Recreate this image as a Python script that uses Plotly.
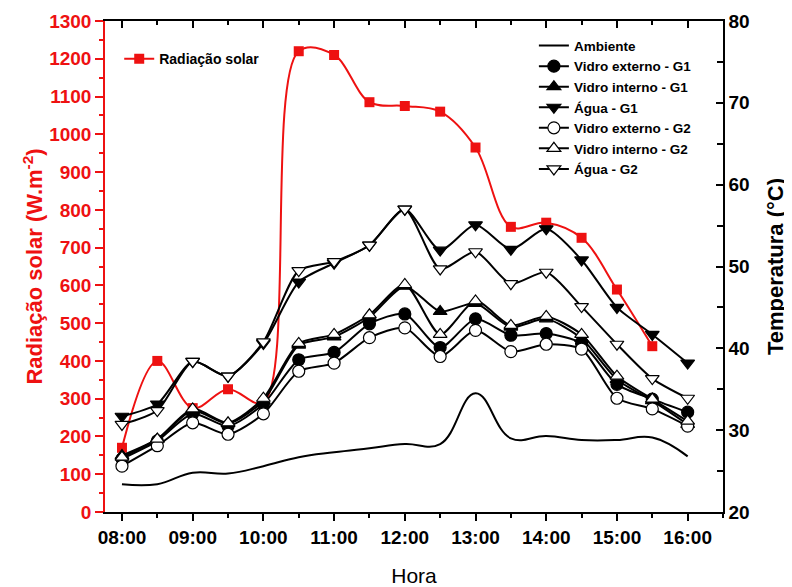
import plotly.graph_objects as go

# ---------------- data ----------------
hours = [8.0, 8.5, 9.0, 9.5, 10.0, 10.5, 11.0, 11.5, 12.0, 12.5, 13.0, 13.5, 14.0, 14.5, 15.0, 15.5, 16.0]
hour_ticks = [8, 9, 10, 11, 12, 13, 14, 15, 16]
hour_labels = ["08:00", "09:00", "10:00", "11:00", "12:00", "13:00", "14:00", "15:00", "16:00"]

rad_hours = [8.0, 8.5, 9.0, 9.5, 10.0, 10.5, 11.0, 11.5, 12.0, 12.5, 13.0, 13.5, 14.0, 14.5, 15.0, 15.5]
radiacao = [170, 400, 275, 325, 290, 1220, 1210, 1085, 1075, 1060, 965, 755, 766, 726, 589, 439]

ambiente = [23.4, 23.4, 24.8, 24.7, 25.6, 26.7, 27.3, 27.8, 28.3, 28.3, 34.5, 29.0, 29.3, 28.8, 28.8, 29.1, 26.8]
vidro_ext_g1 = [26.5, 28.7, 32.0, 30.5, 33.2, 38.6, 39.5, 43.0, 44.2, 40.1, 43.6, 41.6, 41.8, 40.6, 35.6, 33.8, 32.2]
vidro_int_g1 = [26.9, 28.9, 32.4, 30.8, 33.6, 40.4, 41.4, 43.8, 47.6, 44.5, 45.5, 42.6, 43.6, 41.2, 36.2, 33.6, 30.7]
agua_g1 = [31.7, 33.2, 38.4, 36.6, 40.6, 48.1, 50.4, 52.6, 57.0, 52.0, 55.1, 52.1, 54.6, 50.8, 45.0, 41.7, 38.2]
vidro_ext_g2 = [25.6, 28.1, 30.9, 29.5, 32.0, 37.2, 38.2, 41.3, 42.5, 39.0, 42.2, 39.6, 40.5, 39.9, 33.9, 32.6, 30.5]
vidro_int_g2 = [26.7, 28.9, 32.6, 30.9, 33.9, 40.6, 41.7, 44.1, 47.8, 41.7, 45.8, 42.8, 43.9, 41.7, 36.6, 33.8, 31.1]
agua_g2 = [30.7, 32.4, 38.4, 36.6, 40.8, 49.5, 50.6, 52.6, 57.0, 49.7, 51.8, 47.9, 49.3, 45.1, 40.5, 36.3, 33.9]

RED = "#ee1111"
FONT = "Liberation Sans, Arial, sans-serif"

fig = go.Figure()

# radiation (left axis)
fig.add_trace(go.Scatter(
    x=rad_hours, y=radiacao, name="Radiação solar", mode="lines+markers",
    line=dict(color=RED, width=2, shape="spline", smoothing=1.0),
    marker=dict(symbol="square", size=10, color=RED),
    yaxis="y", legend="legend2"))

# ambient (right axis)
fig.add_trace(go.Scatter(
    x=hours, y=ambiente, name="Ambiente", mode="lines",
    line=dict(color="black", width=2, shape="spline", smoothing=1.2),
    yaxis="y2", legend="legend"))

series = [
    ("Vidro externo - G1", vidro_ext_g1, "circle", "black"),
    ("Vidro interno - G1", vidro_int_g1, "triangle-up", "black"),
    ("Água - G1", agua_g1, "triangle-down", "black"),
    ("Vidro externo - G2", vidro_ext_g2, "circle", "white"),
    ("Vidro interno - G2", vidro_int_g2, "triangle-up", "white"),
    ("Água - G2", agua_g2, "triangle-down", "white"),
]
for name, vals, sym, fill in series:
    fig.add_trace(go.Scatter(
        x=hours, y=vals, name=name, mode="lines+markers",
        line=dict(color="black", width=2, shape="spline", smoothing=0.7),
        marker=dict(symbol=sym, size=12, color=fill, line=dict(color="black", width=1.2)),
        yaxis="y2", legend="legend"))

# dummy trace to show top mirrored axis
fig.add_trace(go.Scatter(x=[None], y=[None], xaxis="x2", yaxis="y", showlegend=False,
                         hoverinfo="skip"))

xr = [7.76, 16.5]
fig.update_layout(
    width=784, height=579,
    margin=dict(l=97, r=69, t=13, b=75, autoexpand=False),
    paper_bgcolor="white", plot_bgcolor="white",
    font=dict(family=FONT, color="black"),
    showlegend=True,
    xaxis=dict(
        range=xr, tickmode="array", tickvals=hour_ticks, ticktext=hour_labels,
        ticks="outside", ticklen=7, tickwidth=1.5, tickcolor="black",
        minor=dict(dtick=0.5, tick0=8, ticks="outside", ticklen=4, tickwidth=1.5, tickcolor="black"),
        showline=True, linecolor="black", linewidth=1.5, showgrid=False, zeroline=False,
        automargin=False,
        tickfont=dict(size=19, weight="bold", family=FONT),
        title=dict(text="Hora", font=dict(size=21, family=FONT), standoff=22),
    ),
    xaxis2=dict(
        range=xr, overlaying="x", side="top", tickmode="array", tickvals=hour_ticks,
        ticks="inside", ticklen=7, tickwidth=1.5, tickcolor="black",
        minor=dict(dtick=0.5, tick0=8, ticks="inside", ticklen=4, tickwidth=1.5, tickcolor="black"),
        showticklabels=False, showline=True, linecolor="black", linewidth=1.5,
        showgrid=False, zeroline=False, automargin=False,
    ),
    yaxis=dict(
        range=[0, 1300], dtick=100, tick0=0,
        ticks="outside", ticklen=8, tickwidth=1.5, tickcolor=RED,
        minor=dict(dtick=50, ticks="outside", ticklen=4, tickwidth=1.5, tickcolor=RED),
        showline=True, linecolor=RED, linewidth=1.5, showgrid=False, zeroline=False,
        automargin=False,
        tickfont=dict(size=19, weight="bold", color=RED, family=FONT),
        title=dict(text="Radiação solar (W.m<sup>-2</sup>)",
                   font=dict(size=22, weight="bold", color=RED, family=FONT), standoff=0),
    ),
    yaxis2=dict(
        range=[20, 80], dtick=10, tick0=20, overlaying="y", side="right",
        ticks="inside", ticklen=7, tickwidth=1.5, tickcolor="black",
        minor=dict(dtick=5, ticks="inside", ticklen=6, tickwidth=1.5, tickcolor="black"),
        showline=True, linecolor="black", linewidth=1.5, showgrid=False, zeroline=False,
        automargin=False,
        tickfont=dict(size=19, weight="bold", family=FONT),
        title=dict(text="Temperatura (°C)", font=dict(size=22, weight="bold", family=FONT),
                   standoff=19),
    ),
    legend=dict(
        x=0.694, y=0.981, xanchor="left", yanchor="top",
        bgcolor="rgba(0,0,0,0)", borderwidth=0,
        font=dict(size=13.5, weight="bold", family=FONT),
        tracegroupgap=0, itemwidth=30,
    ),
    legend2=dict(
        x=0.023, y=0.955, xanchor="left", yanchor="top",
        bgcolor="rgba(0,0,0,0)", borderwidth=0,
        font=dict(size=14, weight="bold", family=FONT),
        itemwidth=30,
    ),
)

fig.write_html("out.html")
